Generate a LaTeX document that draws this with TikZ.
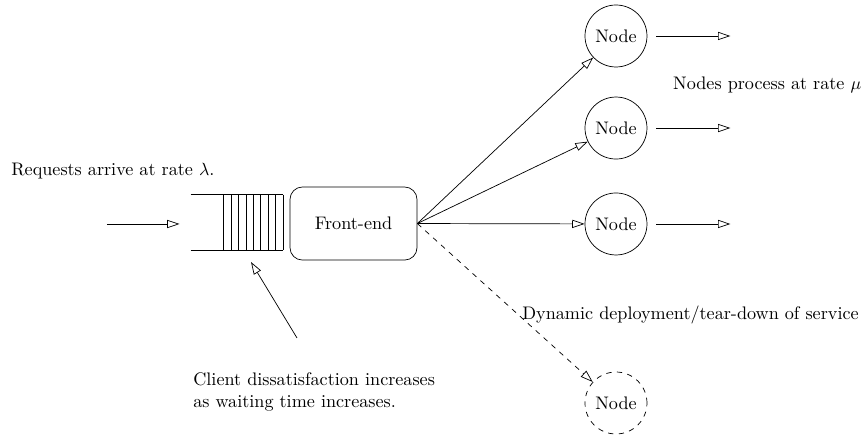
\documentclass[tikz,border=0pt]{standalone}
\usetikzlibrary{arrows.meta}

\begin{document}
\begin{tikzpicture}[
    font=\fontsize{10.25pt}{12.4pt}\selectfont,
    >={Triangle[open, length=7pt, width=4.6pt]},
    srv/.style={draw, circle, minimum size=1.23cm, inner sep=0pt},
    txt/.style={anchor=west, inner sep=0pt, align=left}
]
\useasboundingbox (0,0) rectangle (17.123,-8.631);

% queue in front of the front-end
\node[minimum width=1.825cm, minimum height=1.091cm, inner sep=0pt] (queue) at (4.702,-4.415) {};
\draw (queue.north west) -- (queue.north east);
\draw (queue.south west) -- (queue.south east);
\foreach \i in {0,...,8} {\draw ([xshift=\i*0.1476cm+0.654cm]queue.north west) -- ([xshift=\i*0.1476cm+0.654cm]queue.south west);}

\node[draw, rounded corners=7pt, minimum width=2.52cm, minimum height=1.45cm] (fe) at (7.014,-4.435) {Front-end};

\node[srv] (n1) at (12.222,-0.714) {Node};
\node[srv] (n2) at (12.222,-2.540) {Node};
\node[srv] (n3) at (12.222,-4.444) {Node};
\node[srv, dashed] (n4) at (12.222,-7.996) {Node};

\coordinate (in) at (2.123,-4.444);
\draw[->] (in) -- ([xshift=-0.22cm]queue.west |- in);

\draw[->] (fe.east) -- (n1);
\draw[->] (fe.east) -- (n2);
\draw[->] (fe.east) -- (n3);
\draw[->, dashed] (fe.east) -- (n4);

\foreach \n in {n1,n2,n3} {
  \coordinate (\n out) at ([xshift=0.18cm]\n.east);
  \draw[->] (\n out) -- ++(1.468,0);
}

\node[txt] (arrive) at (0.218,-3.393) {Requests arrive at rate $\lambda$.};
\node[txt] (rate) at (13.35,-1.687) {Nodes process at rate $\mu$};
\node[txt] (deploy) at (10.357,-6.25) {Dynamic deployment/tear-down of service};
\node[txt] (client) at (3.829,-7.778) {Client dissatisfaction increases\\as waiting time increases.};

\coordinate (ptr) at (5.893,-6.706);
\draw[->] (ptr) -- (4.980,-5.198);
\end{tikzpicture}
\end{document}
